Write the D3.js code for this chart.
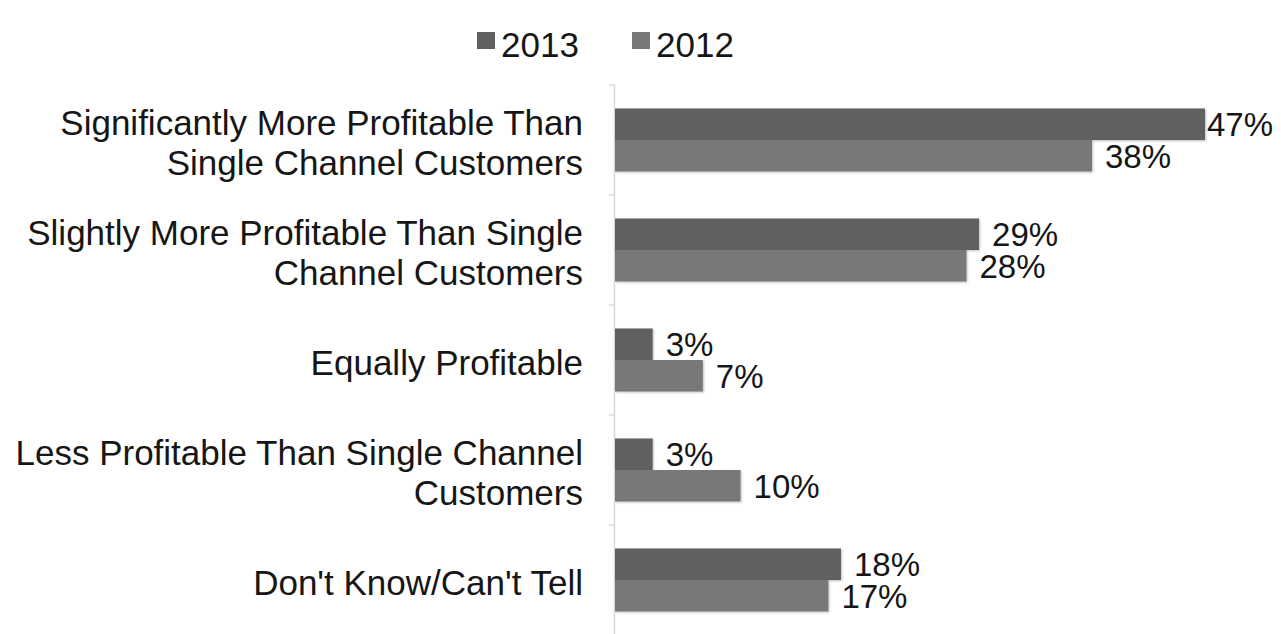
<!DOCTYPE html>
<html>
<head>
<meta charset="utf-8">
<script src="https://cdn.jsdelivr.net/npm/d3@7"></script>
<style>
	body { margin: 0; background: #fff; }
	text { font-family: "Liberation Sans", Arial, sans-serif; fill: #161616; }
</style>
</head>
<body>
<div id="chart"></div>
<script>

// categories (each one split into label lines)
var categories = [
	"Significantly More Profitable Than Single Channel Customers",
	"Slightly More Profitable Than Single Channel Customers",
	"Equally Profitable",
	"Less Profitable Than Single Channel Customers",
	"Don't Know/Can't Tell"
];
var labelLines = [
	["Significantly More Profitable Than", "Single Channel Customers"],
	["Slightly More Profitable Than Single", "Channel Customers"],
	["Equally Profitable"],
	["Less Profitable Than Single Channel", "Customers"],
	["Don't Know/Can't Tell"]
];

var years = ["2013", "2012"];
var values2013 = [47, 29, 3, 3, 18];
var values2012 = [38, 28, 7, 10, 17];

var colors = { "2013": "#606060", "2012": "#787878" };

var width = 1281, height = 634;

var svg = d3.select("#chart").append("svg")
	.attr("width", width)
	.attr("height", height);

// soft edge like the original export
var defs = svg.append("defs");
var filt = defs.append("filter").attr("id", "soft")
	.attr("x", "-5%").attr("y", "-20%").attr("width", "110%").attr("height", "140%");
filt.append("feDropShadow")
	.attr("dx", 1).attr("dy", 1).attr("stdDeviation", 1.2)
	.attr("flood-color", "#000").attr("flood-opacity", 0.25);

var x0 = 615;

var x = d3.scaleLinear()
	.domain([0, 47])
	.range([x0, 1205]);

var y = d3.scaleBand()
	.domain(categories)
	.range([85, 635])
	.paddingInner(0.427)
	.paddingOuter(0.2135);

var ySub = d3.scaleBand()
	.domain(years)
	.range([0, y.bandwidth()]);

// axis line with little ticks
var axisY = d3.scaleLinear().domain([0, 5]).range([85, 635]);
svg.append("line")
	.attr("x1", x0 - 0.5).attr("x2", x0 - 0.5)
	.attr("y1", 85).attr("y2", height)
	.attr("stroke", "#d9d9d9").attr("stroke-width", 1.5);
svg.selectAll(".tick-mark")
	.data(d3.range(0, 6))
	.enter()
	.append("line")
	.attr("class", "tick-mark")
	.attr("x1", x0 - 6).attr("x2", x0)
	.attr("y1", function(d){ return axisY(d); })
	.attr("y2", function(d){ return axisY(d); })
	.attr("stroke", "#d9d9d9").attr("stroke-width", 1.5);

// rows
var rows = categories.map(function(c, i){
	return { cat: c, lines: labelLines[i], vals: [
		{ year: "2013", v: values2013[i] },
		{ year: "2012", v: values2012[i] }
	]};
});

var groups = svg.selectAll(".cat")
	.data(rows)
	.enter()
	.append("g")
	.attr("class", "cat")
	.attr("transform", function(d){ return "translate(0," + y(d.cat) + ")"; });

groups.selectAll("rect")
	.data(function(d){ return d.vals; })
	.enter()
	.append("rect")
	.attr("x", x0)
	.attr("y", function(d){ return ySub(d.year); })
	.attr("width", function(d){ return x(d.v) - x0; })
	.attr("height", ySub.bandwidth())
	.attr("fill", function(d){ return colors[d.year]; })
	.attr("filter", "url(#soft)");

groups.selectAll(".val")
	.data(function(d){ return d.vals; })
	.enter()
	.append("text")
	.attr("class", "val")
	.attr("font-size", 33)
	.attr("y", function(d){ return ySub(d.year) + ySub.bandwidth() / 2 + 12; })
	.text(function(d){ return d.v + "%"; })
	.attr("x", function(d){
		var w = this.getComputedTextLength();
		return Math.min(x(d.v) + 13, width - 8 - w);
	});

// category labels, right aligned
groups.each(function(d){
	var g = d3.select(this);
	var n = d.lines.length;
	var lh = 40;
	var mid = y.bandwidth() / 2 + 3;
	d.lines.forEach(function(line, k){
		g.append("text")
			.attr("x", 583)
			.attr("y", mid + (k - (n - 1) / 2) * lh + 12)
			.attr("text-anchor", "end")
			.attr("font-size", 35)
			.text(line);
	});
});

// legend
var legendX = [477, 632];
var legend = svg.selectAll(".legend")
	.data(years)
	.enter()
	.append("g")
	.attr("class", "legend")
	.attr("transform", function(d, i){ return "translate(" + legendX[i] + ",0)"; });

legend.append("rect")
	.attr("x", 0).attr("y", 32)
	.attr("width", 18).attr("height", 17)
	.attr("fill", function(d){ return colors[d]; });

legend.append("text")
	.attr("x", 24).attr("y", 57)
	.attr("font-size", 35)
	.text(function(d){ return d; });

</script>
</body>
</html>
